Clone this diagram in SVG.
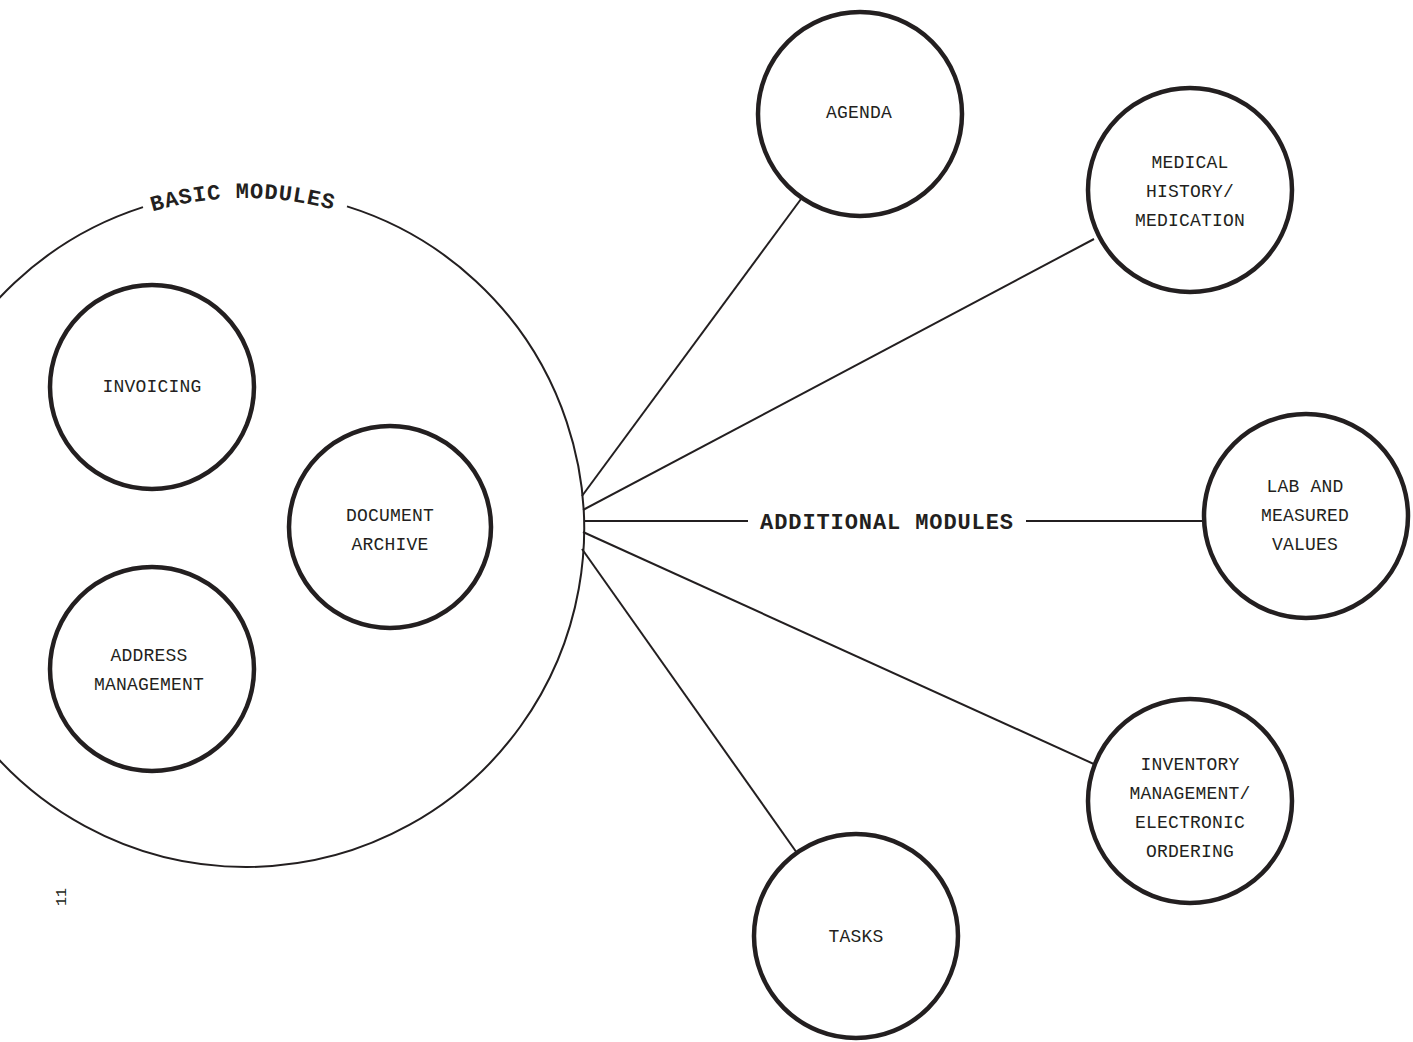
<svg xmlns="http://www.w3.org/2000/svg" width="1413" height="1042" viewBox="0 0 1413 1042">
<style>
.node{fill:#fff;stroke:#231f20;stroke-width:4.5}
.link{fill:none;stroke:#231f20;stroke-width:2}
.lbl{font-family:"Liberation Mono",monospace;font-size:18px;letter-spacing:0.2px;fill:#231f20;text-anchor:middle}
.bold{font-family:"Liberation Mono",monospace;font-size:22px;font-weight:bold;letter-spacing:0.9px;fill:#231f20}
</style>
<defs>
<path id="arcText" d="M -85 529 A 331 331 0 0 1 577 529"/>
</defs>
<rect width="1413" height="1042" fill="#fff"/>
<g id="basic-modules">
<path class="link" d="M 347 206.4 A 338 338 0 1 1 143 207.1"/>
<text class="bold"><textPath href="#arcText" startOffset="49.7%" text-anchor="middle">BASIC MODULES</textPath></text>
</g>
<g id="connectors">
<line class="link" x1="801" y1="199" x2="582" y2="496"/>
<line class="link" x1="1094" y1="239" x2="583" y2="510"/>
<line class="link" x1="584" y1="521" x2="748" y2="521"/>
<line class="link" x1="1026" y1="521" x2="1202" y2="521"/>
<line class="link" x1="583" y1="532" x2="1096" y2="765"/>
<line class="link" x1="582" y1="549" x2="797" y2="853"/>
<text class="bold" x="887" y="529" text-anchor="middle">ADDITIONAL MODULES</text>
</g>
<g id="invoicing">
<circle class="node" cx="152" cy="387" r="102"/>
<text class="lbl" x="152" y="392">INVOICING</text>
</g>
<g id="document-archive">
<circle class="node" cx="390" cy="527" r="101"/>
<text class="lbl" x="390" y="521">DOCUMENT</text>
<text class="lbl" x="390" y="550">ARCHIVE</text>
</g>
<g id="address-management">
<circle class="node" cx="152" cy="669" r="102"/>
<text class="lbl" x="149" y="661">ADDRESS</text>
<text class="lbl" x="149" y="690">MANAGEMENT</text>
</g>
<g id="agenda">
<circle class="node" cx="860" cy="114" r="102"/>
<text class="lbl" x="859" y="118">AGENDA</text>
</g>
<g id="medical-history">
<circle class="node" cx="1190" cy="190" r="102"/>
<text class="lbl" x="1190" y="168">MEDICAL</text>
<text class="lbl" x="1190" y="197">HISTORY/</text>
<text class="lbl" x="1190" y="226">MEDICATION</text>
</g>
<g id="lab-values">
<circle class="node" cx="1306" cy="516" r="102"/>
<text class="lbl" x="1305" y="492">LAB AND</text>
<text class="lbl" x="1305" y="521">MEASURED</text>
<text class="lbl" x="1305" y="550">VALUES</text>
</g>
<g id="inventory">
<circle class="node" cx="1190" cy="801" r="102"/>
<text class="lbl" x="1190" y="770">INVENTORY</text>
<text class="lbl" x="1190" y="799">MANAGEMENT/</text>
<text class="lbl" x="1190" y="828">ELECTRONIC</text>
<text class="lbl" x="1190" y="857">ORDERING</text>
</g>
<g id="tasks">
<circle class="node" cx="856" cy="936" r="102"/>
<text class="lbl" x="856" y="942">TASKS</text>
</g>
<text transform="translate(66 897) rotate(-90)" font-family="Liberation Mono, monospace" font-size="15" fill="#231f20" text-anchor="middle">11</text>
</svg>
